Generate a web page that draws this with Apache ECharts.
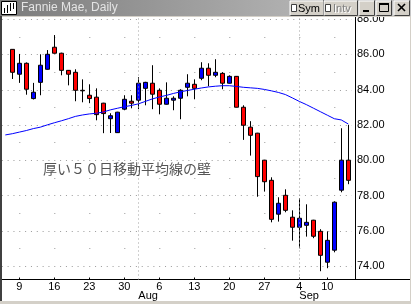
<!DOCTYPE html>
<html>
<head>
<meta charset="utf-8">
<script src="https://cdn.jsdelivr.net/npm/echarts@6/dist/echarts.min.js"></script>
<style>
html, body { margin: 0; padding: 0; background: #fff; }
#chart { width: 411px; height: 304px; }
</style>
</head>
<body>
<div id="chart"></div>
<script>
// trading days, 2001 (7/5 has only the moving average)
const dates = ['7/5','7/6','7/9','7/10','7/11','7/12','7/13','7/16','7/17','7/18','7/19','7/20',
  '7/23','7/24','7/25','7/26','7/27','7/30','7/31','8/1','8/2','8/3','8/6','8/7','8/8','8/9','8/10',
  '8/13','8/14','8/15','8/16','8/17','8/20','8/21','8/22','8/23','8/24','8/27','8/28','8/29','8/30','8/31',
  '9/4','9/5','9/6','9/7','9/10','9/17','9/18','9/19'];

const open = ['-',86.29,84.88,85.50,83.50,84.42,85.16,86.41,86.07,85.10,84.99,83.97,83.69,83.58,83.24,82.36,81.57,
  82.90,83.35,83.41,84.08,84.37,83.97,83.18,83.41,83.52,84.14,84.31,84.65,85.22,84.82,84.93,84.37,84.76,83.01,
  81.88,81.54,80.01,78.87,76.95,78.02,76.78,76.21,76.32,76.61,75.98,74.23,74.91,78.31,80.01];
const close = ['-',84.99,85.50,84.03,83.86,85.39,86.01,86.07,85.10,84.88,83.97,83.94,83.50,82.59,82.65,82.53,82.73,
  83.46,83.24,84.37,84.42,83.75,83.18,83.52,83.52,83.97,84.37,84.08,85.22,84.82,84.99,84.37,84.76,83.01,81.99,
  81.42,79.08,78.79,76.66,77.57,77.17,76.21,76.72,76.49,75.70,74.62,75.47,77.63,80.01,78.87];
const low = ['-',84.61,84.39,83.72,83.45,83.69,85.14,86.05,84.82,84.25,83.35,83.29,83.24,82.27,81.54,81.55,81.55,
  82.84,82.95,82.90,83.12,82.90,82.61,83.16,82.84,82.33,83.63,83.46,84.54,84.20,84.71,84.03,84.35,83.00,81.16,
  80.27,77.94,78.23,76.49,76.53,77.06,75.45,75.05,75.68,75.59,73.72,73.89,74.79,78.19,78.65];
const high = ['-',86.30,86.03,85.55,84.39,86.01,86.25,87.10,86.10,85.12,85.16,84.59,84.31,84.08,83.26,82.67,82.75,
  83.69,83.69,84.71,84.45,85.39,84.08,84.42,83.63,84.03,84.88,84.59,85.56,85.50,85.73,85.00,84.82,84.78,83.12,
  82.22,81.56,80.03,79.04,77.91,78.36,77.17,77.85,77.51,76.63,76.10,75.98,77.68,81.82,82.01];

// 50-day moving average
const ma50 = [81.44,81.51,81.60,81.69,81.80,81.88,82.01,82.13,82.24,82.36,82.49,82.57,82.63,82.67,82.74,82.86,
  82.95,83.04,83.11,83.20,83.34,83.48,83.59,83.68,83.79,83.88,83.96,84.03,84.10,84.16,84.20,84.23,84.23,84.19,
  84.14,84.11,84.08,84.02,83.94,83.85,83.73,83.54,83.34,83.16,82.96,82.76,82.56,82.36,82.29,82.06];

const weekTicks = ['7/9','7/16','7/23','7/30','8/6','8/13','8/20','8/27','9/4','9/10'];
const monthStarts = ['8/1','9/4'];
const monthNames = ['Aug','Sep'];
const yMajor = [74,76,78,80,82,84,86,88];
const yMinor = [75,77,79,81,83,85,87];

const note = '厚い５０日移動平均線の壁';

const chart = echarts.init(document.getElementById('chart'), null, { renderer: 'canvas' });

const font = "'Liberation Sans', Arial, sans-serif";

function button(x, w) {
  return [
    { type: 'rect', shape: { x: x, y: 1, width: w, height: 14 }, style: { fill: '#d4d0c8' }, z: 101 },
    { type: 'polyline', shape: { points: [[x, 15], [x, 1], [x + w, 1]] }, style: { stroke: '#fff', fill: null, lineWidth: 1 }, z: 102 },
    { type: 'polyline', shape: { points: [[x + 0.5, 15.5], [x + w + 0.5, 15.5], [x + w + 0.5, 0.5]] }, style: { stroke: '#404040', fill: null, lineWidth: 1 }, z: 102 }
  ];
}

const chrome = [
  { type: 'rect', shape: { x: 0, y: 0, width: 411, height: 16 },
    style: { fill: new echarts.graphic.LinearGradient(0, 0, 1, 0, [{ offset: 0, color: '#7b7b7b' }, { offset: 1, color: '#c6c6c6' }]) }, z: 100 },
  { type: 'rect', shape: { x: 0, y: 16, width: 411, height: 1 }, style: { fill: '#d4d0c8' }, z: 100 },
  { type: 'rect', shape: { x: 0, y: 16, width: 2, height: 288 }, style: { fill: '#404040' }, z: 100 },
  { type: 'rect', shape: { x: 0, y: 301, width: 411, height: 3 }, style: { fill: '#d4d0c8' }, z: 100 },
  { type: 'rect', shape: { x: 410, y: 16, width: 1, height: 288 }, style: { fill: '#d4d0c8' }, z: 100 },
  // icon
  { type: 'rect', shape: { x: 1.5, y: 1.5, width: 15, height: 13 }, style: { fill: '#fff', stroke: '#000', lineWidth: 1 }, z: 101 },
  { type: 'polyline', shape: { points: [[4.5, 13], [4.5, 8]] }, style: { stroke: '#000', lineWidth: 1 }, z: 102 },
  { type: 'polyline', shape: { points: [[7.5, 13], [7.5, 5]] }, style: { stroke: '#000', lineWidth: 1 }, z: 102 },
  { type: 'polyline', shape: { points: [[10.5, 11], [10.5, 3]] }, style: { stroke: '#000', lineWidth: 1 }, z: 102 },
  { type: 'polyline', shape: { points: [[13.5, 9], [13.5, 3]] }, style: { stroke: '#000', lineWidth: 1 }, z: 102 },
  { type: 'text', x: 21, y: 8, style: { text: 'Fannie Mae, Daily', fill: '#e4e4e4', font: '12px ' + font, textVerticalAlign: 'middle' }, z: 101 },
  ...button(290, 33),
  ...button(324, 33),
  ...button(359, 15),
  ...button(376, 15),
  ...button(394, 15),
  { type: 'rect', shape: { x: 291.5, y: 4.5, width: 5, height: 7 }, style: { fill: '#fff', stroke: '#404040', lineWidth: 1 }, z: 103 },
  { type: 'text', x: 298, y: 8.5, style: { text: 'Sym', fill: '#000', font: '11px ' + font, textVerticalAlign: 'middle' }, z: 103 },
  { type: 'rect', shape: { x: 325.5, y: 4.5, width: 5, height: 7 }, style: { fill: '#fff', stroke: '#404040', lineWidth: 1 }, z: 103 },
  { type: 'text', x: 334, y: 9.5, style: { text: 'Intv', fill: '#fff', font: '11px ' + font, textVerticalAlign: 'middle' }, z: 103 },
  { type: 'text', x: 333, y: 8.5, style: { text: 'Intv', fill: '#808080', font: '11px ' + font, textVerticalAlign: 'middle' }, z: 104 },
  { type: 'rect', shape: { x: 363, y: 10, width: 6, height: 2 }, style: { fill: '#000' }, z: 103 },
  { type: 'rect', shape: { x: 379.5, y: 3.5, width: 9, height: 8 }, style: { fill: null, stroke: '#000', lineWidth: 1 }, z: 103 },
  { type: 'rect', shape: { x: 379.5, y: 3.5, width: 9, height: 1 }, style: { fill: '#000', stroke: '#000', lineWidth: 1 }, z: 103 },
  { type: 'polyline', shape: { points: [[398, 4], [405, 11]] }, style: { stroke: '#000', lineWidth: 1.6 }, z: 103 },
  { type: 'polyline', shape: { points: [[405, 4], [398, 11]] }, style: { stroke: '#000', lineWidth: 1.6 }, z: 103 },
  // x axis line continues under the price scale
  { type: 'polyline', shape: { points: [[351, 279.5], [411, 279.5]] }, style: { stroke: '#000', lineWidth: 1 }, z: 50 },
  // annotation
  { type: 'text', x: 43, y: 168.5,
    style: { text: note, fill: '#555', font: "14px 'Noto Sans CJK JP', sans-serif", textVerticalAlign: 'middle' }, z: 60 }
];

const option = {
  animation: false,
  backgroundColor: '#fff',
  grid: { left: 1.8, right: 59.2, top: 17.4, bottom: 24.5, containLabel: false },
  xAxis: [
    {
      type: 'category', data: dates, boundaryGap: true, position: 'bottom',
      axisLine: { show: true, lineStyle: { color: '#000', width: 1 } },
      axisTick: { show: true, inside: true, length: 2, alignWithLabel: true,
        interval: (i, v) => weekTicks.includes(v), lineStyle: { color: '#000' } },
      axisLabel: { interval: (i, v) => weekTicks.includes(v), formatter: v => v.split('/')[1],
        color: '#000', fontSize: 11, fontFamily: font, margin: 2 },
      splitLine: { show: false }
    },
    {
      type: 'category', data: dates, boundaryGap: true, position: 'bottom',
      axisLine: { show: false }, axisTick: { show: false },
      axisLabel: { interval: (i, v) => monthStarts.includes(v), formatter: v => monthNames[monthStarts.indexOf(v)],
        align: 'left', color: '#000', fontSize: 11, fontFamily: font, margin: 11 },
      splitLine: { show: false }
    }
  ],
  yAxis: [
    {
      type: 'value', position: 'right', offset: 3.2, min: 73.25, max: 88.1,
      axisLine: { show: true, onZero: false, lineStyle: { color: '#000', width: 1 } },
      axisTick: { show: false, customValues: yMajor },
      axisLabel: { customValues: yMajor, formatter: v => v.toFixed(2), color: '#000',
        fontSize: 11, fontFamily: font, margin: 2 },
      splitLine: { show: true, lineStyle: { color: '#9a9a9a', width: 1, type: [1, 4.83] } }
    },
    {
      type: 'value', position: 'right', offset: 3.2, min: 73.25, max: 88.1,
      axisLine: { show: false },
      axisTick: { show: false, customValues: yMinor },
      axisLabel: { show: false, customValues: yMinor },
      splitLine: { show: true, lineStyle: { color: '#9a9a9a', width: 1, type: [1, 34], dashOffset: 17.5 } }
    }
  ],
  series: [
    {
      name: 'FNM', type: 'candlestick', xAxisIndex: 0, yAxisIndex: 0,
      data: dates.map((d, i) => [open[i], close[i], low[i], high[i]]),
      barWidth: 5,
      itemStyle: { color: '#0000ff', color0: '#ff0000', borderColor: '#000', borderColor0: '#000', borderWidth: 1 }
    },
    {
      name: 'MA50', type: 'line', xAxisIndex: 0, yAxisIndex: 0, data: ma50,
      symbol: 'none', smooth: false,
      lineStyle: { color: '#0000ff', width: 1 },
      markLine: {
        silent: true, symbol: ['none', 'none'], label: { show: false },
        lineStyle: { color: '#a0a0a0', width: 1, type: [1, 3] },
        data: monthStarts.map(d => ({ xAxis: d }))
      }
    }
  ],
  graphic: chrome
};

chart.setOption(option);
</script>
</body>
</html>
